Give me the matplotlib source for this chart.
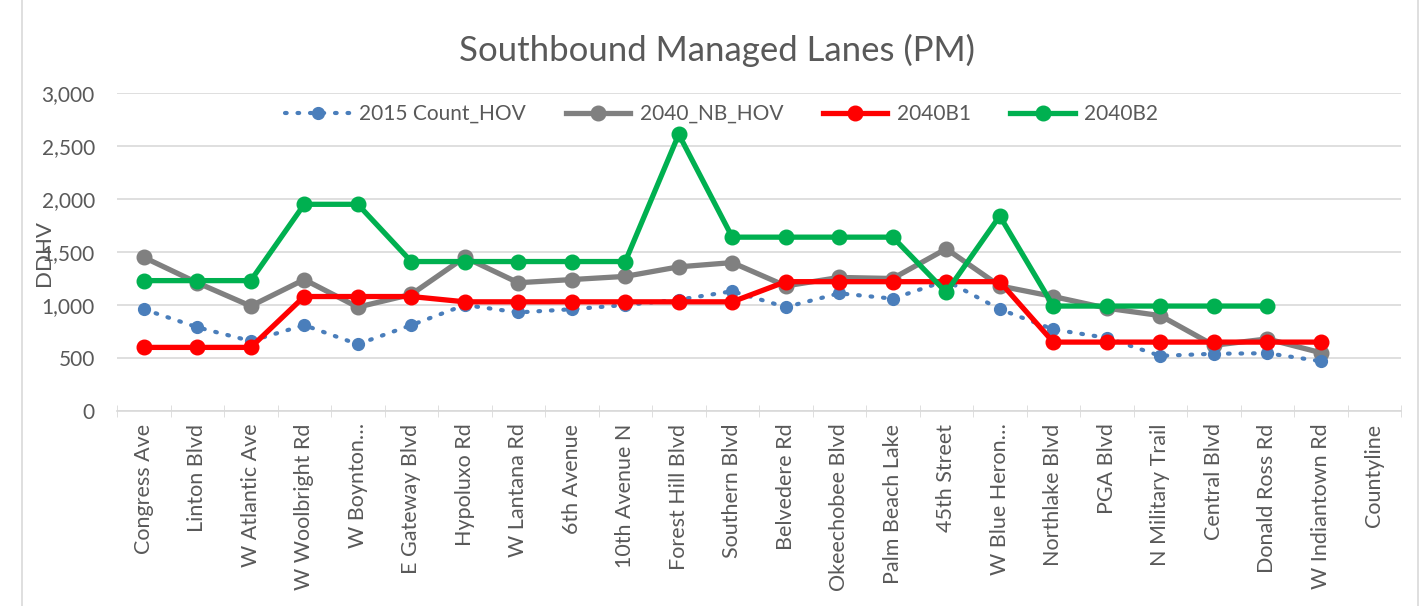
import numpy as np
import matplotlib.pyplot as plt
from matplotlib.patches import Rectangle
from matplotlib.ticker import FuncFormatter

plt.rcParams['font.family'] = ['Lato', 'DejaVu Sans']

# data
roads = ["Congress Ave", "Linton Blvd", "W Atlantic Ave", "W Woolbright Rd",
         "W Boynton\u2026", "E Gateway Blvd", "Hypoluxo Rd", "W Lantana Rd",
         "6th Avenue", "10th Avenue N", "Forest Hill Blvd", "Southern Blvd",
         "Belvedere Rd", "Okeechobee Blvd", "Palm Beach Lake", "45th Street",
         "W Blue Heron\u2026", "Northlake Blvd", "PGA Blvd", "N Military Trail",
         "Central Blvd", "Donald Ross Rd", "W Indiantown Rd", "Countyline"]

count_2015 = [960, 790, 660, 810, 630, 810, 1000, 930, 960, 1000, 1050, 1130,
              980, 1110, 1060, 1230, 960, 770, 690, 520, 540, 545, 470, np.nan]
nb_2040 = [1450, 1210, 990, 1240, 980, 1100, 1450, 1210, 1240, 1270, 1360, 1400,
           1180, 1260, 1250, 1530, 1180, 1080, 970, 900, 620, 680, 550, np.nan]
b1_2040 = [600, 600, 600, 1080, 1080, 1080, 1030, 1030, 1030, 1030, 1030, 1030,
           1220, 1220, 1220, 1220, 1220, 650, 650, 650, 650, 650, 650, np.nan]
b2_2040 = [1230, 1230, 1230, 1950, 1950, 1410, 1410, 1410, 1410, 1410, 2610, 1640,
           1640, 1640, 1640, 1120, 1840, 990, 990, 990, 990, 990, np.nan, np.nan]

txt = '#595959'
x = np.arange(len(roads))

fig = plt.figure(figsize=(14.24, 6.06), dpi=100)
ax = fig.add_axes([117/1424, 1 - 411/606, (1401-117)/1424, (411-93)/606])

ax.plot(x, count_2015, color='#4a7ebb', lw=3, ls=(0, (0.4, 2.6)),
        dash_capstyle='round', marker='o', ms=8.5, label='2015 Count_HOV', zorder=3)
ax.plot(x, nb_2040, color='#808080', lw=3.8, marker='o', ms=10.5,
        label='2040_NB_HOV', zorder=2)
ax.plot(x, b1_2040, color='#ff0000', lw=3.8, marker='o', ms=10.5,
        label='2040B1', zorder=4)
ax.plot(x, b2_2040, color='#00b050', lw=3.8, marker='o', ms=10.5,
        label='2040B2', zorder=5)

ax.set_ylim(0, 3000)
ax.set_xlim(-0.5, len(roads) - 0.5)
ax.set_yticks(np.arange(0, 3001, 500))
ax.yaxis.set_major_formatter(FuncFormatter(lambda v, p: f'{int(v):,}'))
ax.grid(axis='y', color='#d9d9d9', lw=1.2)
ax.set_axisbelow(True)

ax.set_xticks(x)
ax.set_xticklabels(roads, rotation=90, va='top', ha='center')
ax.set_xticks(np.arange(-0.5, len(roads), 1), minor=True)
ax.tick_params(axis='x', which='major', length=0, pad=9, labelsize=15.5, labelcolor=txt)
ax.tick_params(axis='x', which='minor', length=8, direction='inout', color='#d9d9d9')
ax.tick_params(axis='y', length=0, pad=16, labelsize=15, labelcolor=txt)

for s in ['top', 'right', 'left']:
    ax.spines[s].set_visible(False)
ax.spines['bottom'].set_color('#d9d9d9')
ax.spines['bottom'].set_linewidth(1.2)

leg = ax.legend(loc='upper center', bbox_to_anchor=(0.471, 1.025), ncol=4, frameon=False,
                fontsize=15, handlelength=3.1, handletextpad=0.45,
                columnspacing=1.9, labelcolor=txt)

fig.text(717/1424, 1 - 50/606, 'Southbound Managed Lanes (PM)', ha='center',
         va='center', fontsize=25, color=txt)
fig.text(44/1424, 1 - 253/606, 'DDHV', rotation=90, ha='center', va='center',
         fontsize=16, color=txt)

fig.patches.append(Rectangle((22/1424, -0.05), (1418-22)/1424, 1.1,
                             transform=fig.transFigure, fill=False,
                             edgecolor='#d9d9d9', lw=1.2))

fig.savefig('out.png', dpi=100)
